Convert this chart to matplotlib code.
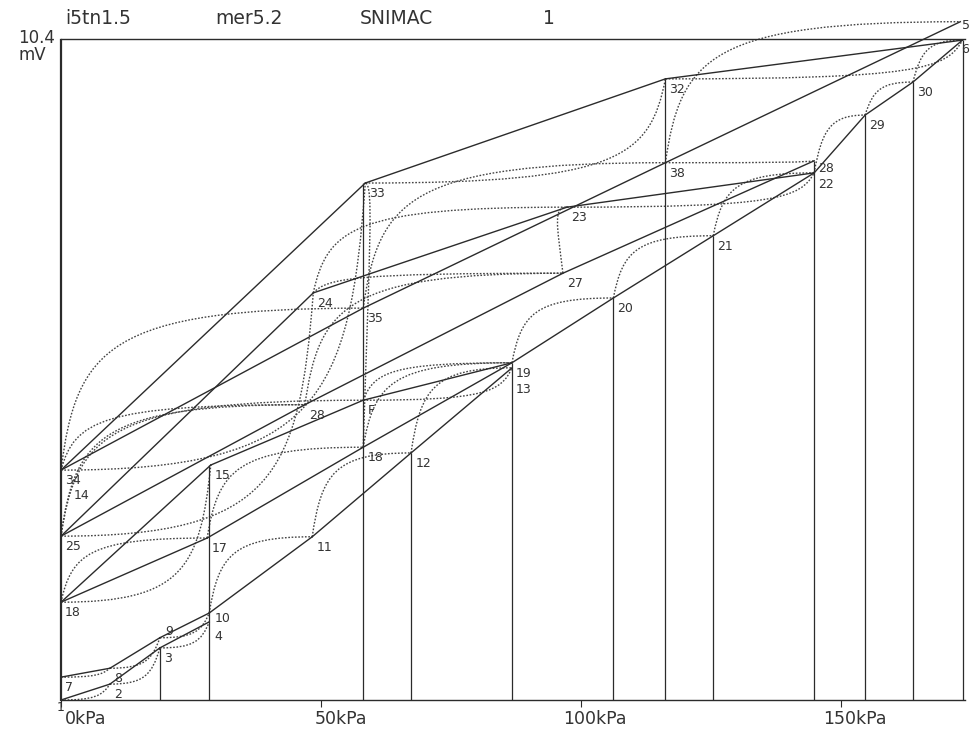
import matplotlib
matplotlib.use("Agg")
import matplotlib.pyplot as plt
from matplotlib.path import Path
from matplotlib.patches import PathPatch

# point number -> (pressure kPa, signal mV)
point_ids = [1, 2, 3, 4, 5, 6, 7, 8, 9, 10,
             11, 12, 13, 14, 15, 16, 17, 18, 19, 20,
             21, 22, 23, 24, 25, 26, 27, 28, 29, 30,
             32, 33, 34, 35, 36, 37]
pressure = [0.0, 9.4, 19.0, 28.5, 172.9, 173.3, 0.0, 9.4, 19.0, 28.5,
            48.3, 67.3, 86.7, 0.0, 28.8, 0.0, 28.1, 58.1, 86.7, 106.2,
            125.4, 144.8, 97.3, 48.5, 0.0, 46.9, 96.5, 144.8, 154.6, 163.8,
            116.2, 58.5, 0.0, 58.1, 116.2, 58.1]
signal = [0.0, 0.25, 0.82, 1.23, 10.68, 10.39, 0.36, 0.50, 0.98, 1.37,
          2.57, 3.89, 5.23, 3.59, 3.70, 1.54, 2.55, 3.98, 5.31, 6.33,
          7.31, 8.30, 7.76, 6.41, 2.58, 4.65, 6.72, 8.49, 9.21, 9.73,
          9.78, 8.14, 3.62, 6.17, 8.46, 4.72]
point_labels = ["1", "2", "3", "4", "5", "6", "7", "8", "9", "10",
                "11", "12", "13", "14", "15", "18", "17", "18", "19", "20",
                "21", "22", "23", "24", "25", "28", "27", "28", "29", "30",
                "32", "33", "34", "35", "38", "F"]

# straight (solid) connections
solid_pairs = [(1, 2), (2, 3), (3, 4), (7, 8), (8, 9), (9, 10), (10, 11), (11, 12),
               (12, 13), (19, 20), (20, 21), (21, 22), (22, 29), (29, 30), (30, 6),
               (16, 17), (16, 15), (17, 18), (18, 19), (37, 19), (15, 37),
               (25, 26), (25, 24), (26, 27), (27, 28), (24, 23), (23, 22),
               (34, 33), (34, 35), (33, 32), (32, 6), (35, 36), (36, 5)]

# measured transitions (dotted); 'v' = signal moves first, 'h' = pressure moves first
dotted_pairs = [(1, 2, "h"), (2, 3, "h"), (3, 4, "h"), (7, 8, "h"), (8, 9, "h"), (9, 10, "h"),
                (10, 11, "v"), (11, 12, "v"), (12, 13, "v"), (19, 20, "v"), (20, 21, "v"),
                (21, 22, "v"), (22, 29, "v"), (29, 30, "v"), (30, 6, "v"),
                (16, 17, "v"), (16, 15, "h"), (17, 18, "v"), (18, 19, "v"),
                (25, 26, "v"), (25, 24, "h"), (25, 37, "v"), (26, 27, "v"), (24, 23, "v"),
                (24, 27, "v"), (23, 27, "h"), (23, 22, "h"), (37, 19, "v"), (37, 13, "h"),
                (34, 35, "v"), (34, 33, "h"), (34, 26, "v"), (33, 32, "h"), (35, 36, "v"),
                (18, 33, "v"), (36, 5, "v"), (32, 6, "h"), (36, 28, "h")]

# vertical marker lines: pressure step and the height they reach
step_kpa = [19.0, 28.5, 58.1, 67.3, 86.7, 106.2, 116.2, 125.4, 144.8, 154.6, 163.8, 173.5]
step_top = [0.82, 3.70, 8.14, 3.89, 5.31, 6.33, 9.78, 7.31, 8.49, 9.21, 9.73, 10.39]

xticks = [0, 50, 100, 150]
xtick_labels = ["0kPa", "50kPa", "100kPa", "150kPa"]

pts = {pid: (p, s) for pid, p, s in zip(point_ids, pressure, signal)}
ink = "#2b2b2b"
# a few labels sit apart where two points share a spot
nudge = {1: (-3, -1), 13: (3, -11), 14: (9, -12), 5: (1, 2), 6: (-1, -2), 22: (3, -4),
         28: (3, -1), 9: (4, 9), 4: (4, -6), 10: (4, 1)}

fig = plt.figure(figsize=(9.71, 7.32), dpi=100)
ax = fig.add_axes([61 / 971, 32 / 732, 904 / 971, 660.5 / 732])
ax.set_xlim(0, 173.8)
ax.set_ylim(0, 10.4)

for a, b in solid_pairs:
    (x1, y1), (x2, y2) = pts[a], pts[b]
    ax.plot([x1, x2], [y1, y2], color=ink, lw=1.0, clip_on=False)

for a, b, kind in dotted_pairs:
    (x1, y1), (x2, y2) = pts[a], pts[b]
    dx, dy = x2 - x1, y2 - y1
    if kind == "v":
        ctrl = [(x1 + 0.03 * dx + 1.2, y1 + 0.75 * dy), (x1 + 0.12 * dx + 2, y2)]
    else:
        ctrl = [(x2 - 0.12 * dx - 2, y1), (x2 - 0.03 * dx - 1.2, y1 + 0.25 * dy)]
    path = Path([(x1, y1), ctrl[0], ctrl[1], (x2, y2)],
                [Path.MOVETO, Path.CURVE4, Path.CURVE4, Path.CURVE4])
    ax.add_patch(PathPatch(path, fill=False, ec="#444444", lw=1.0,
                           ls=(0, (1.2, 1.2)), clip_on=False))

ax.vlines(step_kpa, 0, step_top, color=ink, lw=0.9)

for pid, lab in zip(point_ids, point_labels):
    x, y = pts[pid]
    ax.annotate(lab, (x, y), xytext=nudge.get(pid, (3, -3)), textcoords="offset points",
                ha="left", va="top", fontsize=9, color="#333333",
                annotation_clip=False)

ax.spines["right"].set_visible(False)
for side in ["left", "top", "bottom"]:
    ax.spines[side].set_color(ink)
    ax.spines[side].set_linewidth(1.0)
ax.spines["left"].set_linewidth(1.6)

ax.set_xticks(xticks)
ax.set_xticklabels([])
ax.tick_params(axis="x", direction="out", length=5, width=0.8, colors=ink)
ax.set_yticks([])
for t, lab in zip(xticks, xtick_labels):
    ax.annotate(lab, (t, 0), xytext=(33, -7), textcoords="offset points",
                ha="right", va="top", fontsize=12.5, color="#333333",
                annotation_clip=False)

fig.text(55 / 971, 1 - 38 / 732, "10.4", ha="right", va="center", fontsize=12, color="#333333")
fig.text(46 / 971, 1 - 55 / 732, "mV", ha="right", va="center", fontsize=12, color="#333333")
for txt, px in [("i5tn1.5", 65), ("mer5.2", 215), ("SNIMAC", 360), ("1", 543)]:
    fig.text(px / 971, 1 - 18 / 732, txt, ha="left", va="center", fontsize=13.5, color="#333333")

fig.savefig("out.png", dpi=100)
